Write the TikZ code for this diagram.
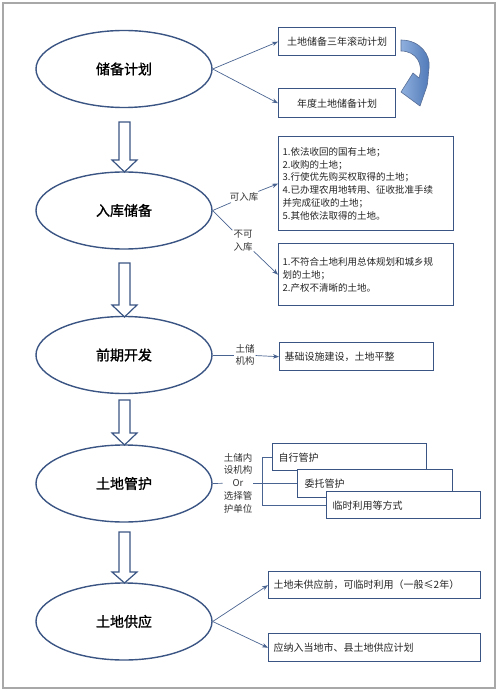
\documentclass[tikz,border=0pt]{standalone}
\usepackage{fontspec}
\setmainfont{Noto Sans CJK SC}
\newfontfamily\cjkbold{Noto Sans CJK SC}[FakeBold=1.2]
\usetikzlibrary{arrows.meta,shapes.geometric}
\definecolor{navy}{HTML}{3A5583}
\definecolor{linec}{HTML}{4A6491}
\definecolor{framegray}{HTML}{A8A8A8}
\definecolor{curvetop}{HTML}{8FB0DE}
\definecolor{curvebot}{HTML}{4D76B6}
\newcommand\downblock[4]{% x-centre, shaft top, head start, tip
  \draw[blockarrow] (#1-5.5,#2) -- (#1+5.5,#2) -- (#1+5.5,#3) -- (#1+12.5,#3) -- (#1,#4) -- (#1-12.5,#3) -- (#1-5.5,#3) -- cycle;}
\begin{document}
\begin{tikzpicture}[x=1pt,y=-1pt,
 stage/.style={ellipse, draw=navy, line width=1.4pt, minimum width=176pt, minimum height=77pt, inner sep=0pt, font=\cjkbold\fontsize{14}{16}\selectfont},
 box/.style={draw=navy, line width=1.4pt, fill=white, anchor=north west, inner ysep=0pt, font=\fontsize{10}{12}\selectfont, text=black!85},
 listbox/.style={box, align=left, font=\fontsize{9.5}{12.8}\selectfont},
 conn/.style={draw=linec, line width=0.7pt},
 arr/.style={conn, -{Stealth[length=6pt,width=4.5pt]}},
 lab/.style={font=\fontsize{9.5}{12.7}\selectfont, align=center, inner sep=1pt, text=black!80},
 blockarrow/.style={draw=navy, line width=1.2pt, fill=white, line join=miter},
]
\useasboundingbox (0,0) rectangle (500,692);
\draw[framegray, line width=1.5pt] (3,3) rectangle (495,688);

% stages
\node[stage] (e1) at (124,69) {储备计划};
\node[stage] (e2) at (124,210.5) {入库储备};
\node[stage] (e3) at (124,355) {前期开发};
\node[stage] (e4) at (124,483.5) {土地管护};
\node[stage] (e5) at (124,621.5) {土地供应};

% block arrows
\downblock{124.5}{122}{160}{172}
\downblock{124.5}{263}{305}{317}
\downblock{124.5}{400}{433}{445}
\downblock{124.5}{532}{572}{583}

% boxes
\node[box, minimum width=117pt, minimum height=28pt] (ba) at (278,27) {土地储备三年滚动计划};
\node[box, minimum width=117pt, minimum height=29pt] (bb) at (278,88) {年度土地储备计划};
\node[listbox, minimum width=175pt, minimum height=94pt, inner xsep=4pt, text width=167pt] (bc) at (278,136)
 {1.依法收回的国有土地；\\2.收购的土地；\\3.行使优先购买权取得的土地；\\4.已办理农用地转用、征收批准手续\\并完成征收的土地；\\5.其他依法取得的土地。};
\node[listbox, minimum width=175pt, minimum height=62pt, inner xsep=4pt, text width=167pt] (bd) at (278,243)
 {1.不符合土地利用总体规划和城乡规\\划的土地；\\2.产权不清晰的土地。};
\node[box, align=left, minimum width=154pt, minimum height=28pt, inner xsep=5pt, text width=144pt] (be) at (279,342) {基础设施建设，土地平整};
\node[box, align=left, minimum width=154pt, minimum height=27pt, inner xsep=6pt, text width=142pt] (bf) at (272,443) {自行管护};
\node[box, align=left, minimum width=155pt, minimum height=28pt, inner xsep=7pt, text width=141pt] (bg) at (297,469) {委托管护};
\node[box, align=left, minimum width=154pt, minimum height=27pt, inner xsep=6pt, text width=142pt] (bh) at (326,491) {临时利用等方式};
\node[box, align=left, minimum width=212pt, minimum height=27pt, inner xsep=5pt, text width=202pt] (bi) at (268,571) {土地未供应前，可临时利用（一般≤2年）};
\node[box, align=left, minimum width=212pt, minimum height=28pt, inner xsep=5pt, text width=202pt] (bj) at (268,633) {应纳入当地市、县土地供应计划};

% curved arrow between plans
\shadedraw[left color=curvetop, right color=curvebot, draw=navy!85, line width=0.6pt, line join=miter]
 (401,40) .. controls (420,40) and (431,55) .. (429,68) .. controls (428,76) and (428,82) .. (427,86)
 -- (420,106) -- (401,92) -- (413,73) -- (419,78)
 .. controls (424,64) and (416,51) .. (401,51) -- cycle;

% labels
\node[lab] (l1) at (244,197) {可入库};
\node[lab] (l2) at (243,241) {不可\\入库};
\node[lab] (l3) at (245,355) {土储\\机构};
\node[lab] (l4) at (238,483) {土储内\\设机构\\Or\\选择管\\护单位};
\coordinate (br) at (262,483);

% connectors
\draw[arr] (e1.east) -- (ba.west);
\draw[arr] (e1.east) -- (bb.west);
\draw[conn] (e2.east) -- (l1);
\draw[arr] (l1) -- (bc.west);
\draw[conn] (e2.east) -- (l2);
\draw[arr] (l2) -- (bd.west);
\draw[conn] (e3.east) -- (l3);
\draw[arr] (l3) -- (be.west);
\draw[conn] (e4.east) -- (l4);
\draw[conn] (l4.east |- br) -- (br);
\draw[conn] (bf.west -| br) -- (bh.west -| br);
\draw[conn] (bf.west -| br) -- (bf.west);
\draw[conn] (bg.west -| br) -- (bg.west);
\draw[conn] (bh.west -| br) -- (bh.west);
\draw[arr] (e5.east) -- (bi.west);
\draw[arr] (e5.east) -- (bj.west);
\end{tikzpicture}
\end{document}
